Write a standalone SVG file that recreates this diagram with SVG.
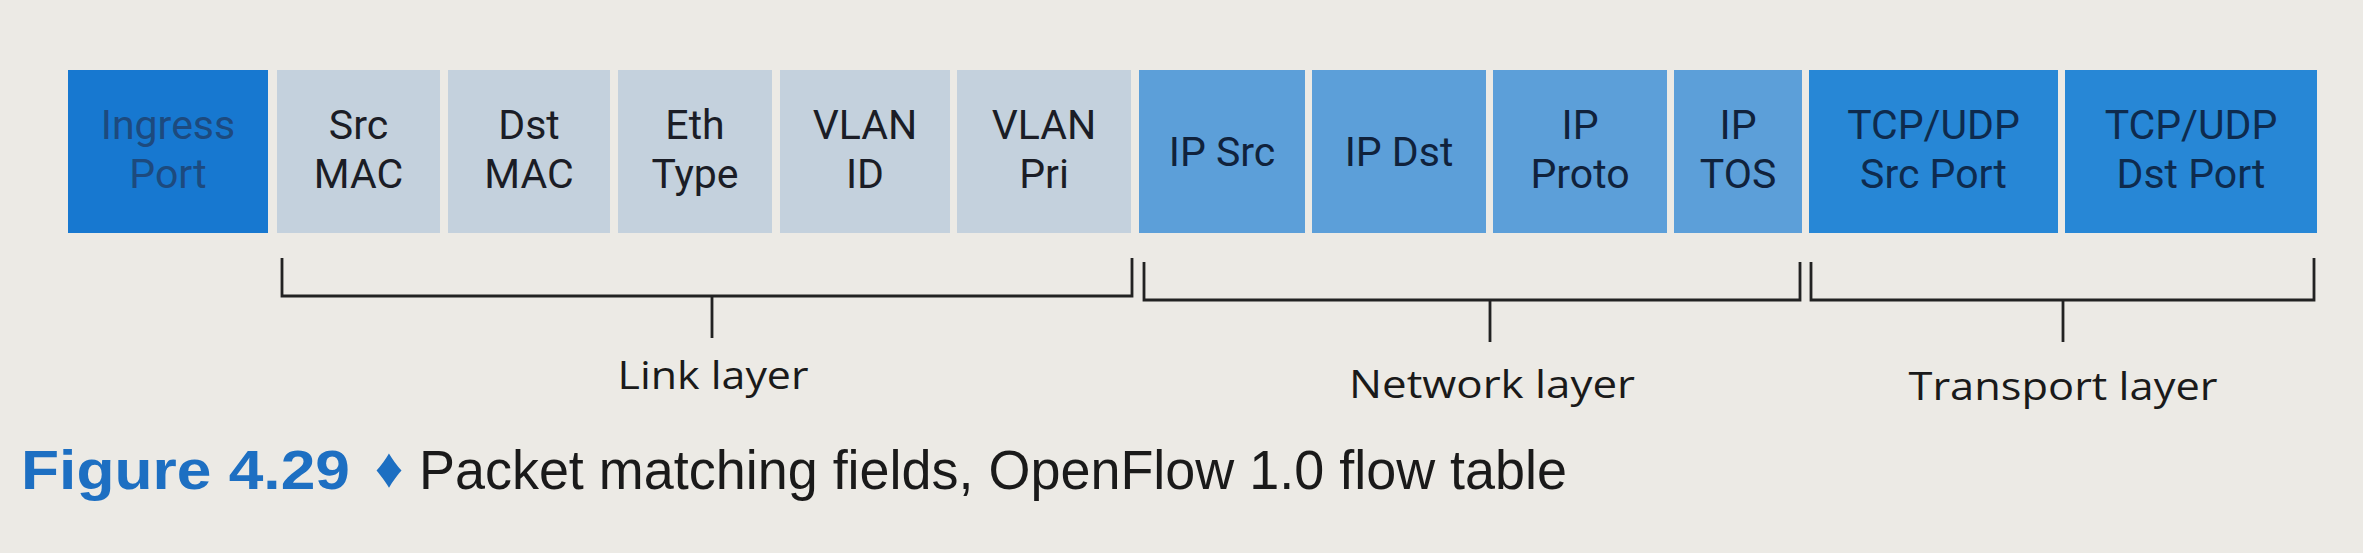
<svg xmlns="http://www.w3.org/2000/svg" width="2363" height="553" viewBox="0 0 2363 553">
  <style>
    .box { stroke: none; }
    .ingress { fill: #1778d0; }
    .link { fill: #c4d1dd; }
    .net { fill: #5c9fd9; }
    .trans { fill: #2787d6; }
    .lbl { font-family: Roboto, "Liberation Sans", sans-serif; font-size: 41px; text-anchor: middle; fill: #1b1d26; }
    .lbl-in { fill: #1d4a7e; }
    .lbl-tr { fill: #0e2b4e; }
    .lbl-net { fill: #10223c; }
    .br { fill: none; stroke: #222; stroke-width: 2.8; }
    .layer { font-family: "Open Sans", "Noto Sans", "DejaVu Sans", sans-serif; font-size: 38px; text-anchor: middle; fill: #1a1a1a; }
    .cap { font-family: "Liberation Sans", "DejaVu Sans", sans-serif; font-size: 56px; }
  </style>
  <rect x="0" y="0" width="2363" height="553" fill="#eceae5"/>

  <g id="node-ingress-port">
    <rect class="box ingress" x="68" y="70" width="200" height="163"/>
    <text class="lbl lbl-in" x="168" y="139">Ingress</text>
    <text class="lbl lbl-in" x="168" y="188">Port</text>
  </g>
  <g id="node-src-mac">
    <rect class="box link" x="277" y="70" width="163" height="163"/>
    <text class="lbl" x="358.5" y="139">Src</text>
    <text class="lbl" x="358.5" y="188">MAC</text>
  </g>
  <g id="node-dst-mac">
    <rect class="box link" x="448" y="70" width="162" height="163"/>
    <text class="lbl" x="529" y="139">Dst</text>
    <text class="lbl" x="529" y="188">MAC</text>
  </g>
  <g id="node-eth-type">
    <rect class="box link" x="618" y="70" width="154" height="163"/>
    <text class="lbl" x="695" y="139">Eth</text>
    <text class="lbl" x="695" y="188">Type</text>
  </g>
  <g id="node-vlan-id">
    <rect class="box link" x="780" y="70" width="170" height="163"/>
    <text class="lbl" x="865" y="139">VLAN</text>
    <text class="lbl" x="865" y="188">ID</text>
  </g>
  <g id="node-vlan-pri">
    <rect class="box link" x="957" y="70" width="174" height="163"/>
    <text class="lbl" x="1044" y="139">VLAN</text>
    <text class="lbl" x="1044" y="188">Pri</text>
  </g>
  <g id="node-ip-src">
    <rect class="box net" x="1139" y="70" width="166" height="163"/>
    <text class="lbl lbl-net" x="1222" y="166">IP Src</text>
  </g>
  <g id="node-ip-dst">
    <rect class="box net" x="1312" y="70" width="174" height="163"/>
    <text class="lbl lbl-net" x="1399" y="166">IP Dst</text>
  </g>
  <g id="node-ip-proto">
    <rect class="box net" x="1493" y="70" width="174" height="163"/>
    <text class="lbl lbl-net" x="1580" y="139">IP</text>
    <text class="lbl lbl-net" x="1580" y="188">Proto</text>
  </g>
  <g id="node-ip-tos">
    <rect class="box net" x="1674" y="70" width="128" height="163"/>
    <text class="lbl lbl-net" x="1738" y="139">IP</text>
    <text class="lbl lbl-net" x="1738" y="188">TOS</text>
  </g>
  <g id="node-tcp-udp-src-port">
    <rect class="box trans" x="1809" y="70" width="249" height="163"/>
    <text class="lbl lbl-tr" x="1933.5" y="139">TCP/UDP</text>
    <text class="lbl lbl-tr" x="1933.5" y="188">Src Port</text>
  </g>
  <g id="node-tcp-udp-dst-port">
    <rect class="box trans" x="2065" y="70" width="252" height="163"/>
    <text class="lbl lbl-tr" x="2191" y="139">TCP/UDP</text>
    <text class="lbl lbl-tr" x="2191" y="188">Dst Port</text>
  </g>

  <g id="connectors">
    <path class="br" d="M282 258 V296 H1132 V258"/>
    <path class="br" d="M712 296 V338"/>
    <path class="br" d="M1144 262 V300 H1800 V262"/>
    <path class="br" d="M1490 300 V342"/>
    <path class="br" d="M1811 262 V300 H2314 V258"/>
    <path class="br" d="M2063 300 V342"/>
  </g>

  <g id="layer-labels">
    <text class="layer" x="713" y="389" textLength="191" lengthAdjust="spacingAndGlyphs">Link layer</text>
    <text class="layer" x="1492" y="398" textLength="286" lengthAdjust="spacingAndGlyphs">Network layer</text>
    <text class="layer" x="2063" y="400" textLength="309" lengthAdjust="spacingAndGlyphs">Transport layer</text>
  </g>

  <g id="caption">
    <text class="cap" x="21" y="489" fill="#1d6fc2" font-weight="bold" textLength="329" lengthAdjust="spacingAndGlyphs">Figure 4.29</text>
    <text class="cap" x="389" y="487" fill="#1d6fc2" font-size="40" text-anchor="middle" font-family="DejaVu Sans, sans-serif">♦</text>
    <text class="cap" x="419" y="489" fill="#1a1a1a" textLength="1148" lengthAdjust="spacingAndGlyphs">Packet matching fields, OpenFlow 1.0 flow table</text>
  </g>
</svg>
